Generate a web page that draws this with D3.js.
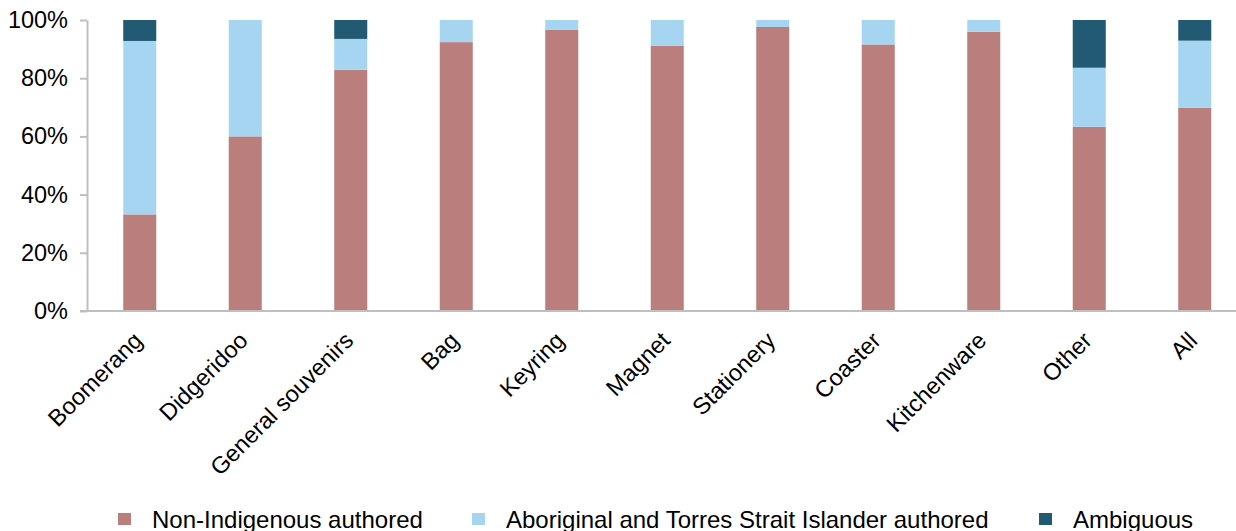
<!DOCTYPE html>
<html lang="en">
<head>
    <meta charset="UTF-8">
    <title>Souvenir authorship</title>
    <script src="https://d3js.org/d3.v7.min.js"></script>
    <style>
        body { margin: 0; background: #fff; }
        svg { display: block; font-family: "Liberation Sans", Arial, sans-serif; }
    </style>
</head>
<body>
<svg width="1236" height="531"></svg>

<script>
    var categories = ["Boomerang", "Didgeridoo", "General souvenirs", "Bag", "Keyring", "Magnet",
        "Stationery", "Coaster", "Kitchenware", "Other", "All"];
    var nonIndigenous = [33.2, 60.0, 82.9, 92.4, 96.7, 91.2, 97.6, 91.6, 96.0, 63.3, 69.9];
    var aboriginal    = [59.6, 40.0, 10.6, 7.6, 3.3, 8.8, 2.4, 8.4, 4.0, 20.3, 23.0];
    var ambiguous     = [7.2, 0, 6.5, 0, 0, 0, 0, 0, 0, 16.4, 7.1];
    var seriesNames = ["Non-Indigenous authored", "Aboriginal and Torres Strait Islander authored", "Ambiguous"];
    var colors = ["#BA7F7D", "#A6D5F1", "#215A72"];
    var yTicks = [0, 20, 40, 60, 80, 100];

    var svg = d3.select("svg");
    var plotLeft = 87, plotTop = 20, plotBottom = 311;

    var rows = categories.map(function(c, i){
        return {cat: c, s0: nonIndigenous[i], s1: aboriginal[i], s2: ambiguous[i]};
    });
    var stack = d3.stack().keys(["s0", "s1", "s2"])(rows);

    var x = d3.scaleBand().domain(categories).range([plotLeft, 1247.5])
        .paddingInner(0.687).paddingOuter(0.3435);
    var y = d3.scaleLinear().domain([0, 100]).range([plotBottom, plotTop]);

    // bars
    svg.append("g").selectAll("g")
        .data(stack)
        .enter().append("g")
        .attr("fill", function(d, i){ return colors[i]; })
        .selectAll("rect")
        .data(function(d){ return d; })
        .enter().append("rect")
        .attr("x", function(d){ return x(d.data.cat); })
        .attr("y", function(d){ return y(d[1]); })
        .attr("width", x.bandwidth())
        .attr("height", function(d){ return y(d[0]) - y(d[1]); });

    // y axis
    var yAxis = svg.append("g")
        .attr("transform", "translate(" + plotLeft + ",0)")
        .call(d3.axisLeft(y).tickValues(yTicks).tickSize(7).tickSizeOuter(0).tickPadding(12)
            .tickFormat(function(d){ return d + "%"; }));
    yAxis.selectAll("line, path").attr("stroke", "#BFBFBF").attr("stroke-width", 2);
    yAxis.selectAll("text").attr("font-size", "23.5px").attr("fill", "#000")
        .attr("font-family", "Liberation Sans, Arial, sans-serif");

    // x axis line
    svg.append("line")
        .attr("x1", plotLeft - 7).attr("x2", 1236)
        .attr("y1", plotBottom).attr("y2", plotBottom)
        .attr("stroke", "#BFBFBF").attr("stroke-width", 2);

    // x labels, rotated
    svg.append("g").selectAll("text")
        .data(categories)
        .enter().append("text")
        .attr("transform", function(d){
            return "translate(" + (x(d) + x.bandwidth() / 2 + 4) + ",342) rotate(-45)";
        })
        .attr("text-anchor", "end")
        .attr("font-size", "23.5px")
        .attr("fill", "#000")
        .text(function(d){ return d; });

    // legend
    var legendX = [118, 472, 1039];
    var lg = svg.append("g").selectAll("g")
        .data(seriesNames)
        .enter().append("g")
        .attr("transform", function(d, i){ return "translate(" + legendX[i] + ",0)"; });
    lg.append("rect")
        .attr("x", 0).attr("y", 513)
        .attr("width", 13).attr("height", 12)
        .attr("fill", function(d, i){ return colors[i]; });
    lg.append("text")
        .attr("x", 34).attr("y", 528)
        .attr("font-size", "24px")
        .attr("fill", "#000")
        .text(function(d){ return d; });
</script>
</body>
</html>
